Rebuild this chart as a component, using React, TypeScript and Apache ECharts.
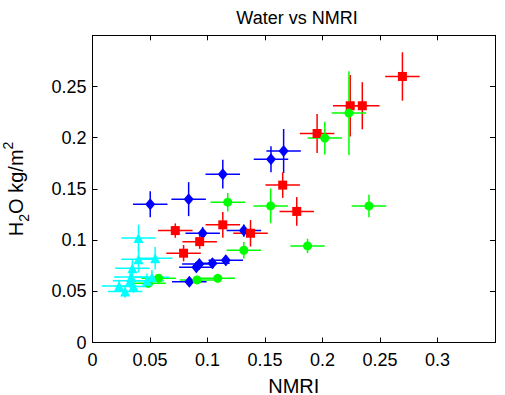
import React, { useEffect, useRef } from "react";
import * as echarts from "echarts";

// [NMRI, H2O, NMRI error, H2O error]
const bluePoints: number[][] = [
  [0.0502, 0.135, 0.015, 0.0127],
  [0.0836, 0.14, 0.015, 0.0166],
  [0.1133, 0.1644, 0.015, 0.014],
  [0.0958, 0.1067, 0.015, 0.006],
  [0.1316, 0.1093, 0.015, 0.006],
  [0.0929, 0.0767, 0.015, 0.005],
  [0.0903, 0.0735, 0.015, 0.005],
  [0.1043, 0.0774, 0.015, 0.005],
  [0.1159, 0.0803, 0.015, 0.005],
  [0.0842, 0.0594, 0.015, 0.004],
  [0.1552, 0.179, 0.015, 0.0127],
  [0.1662, 0.187, 0.015, 0.0215],
];

const redPoints: number[][] = [
  [0.072, 0.1093, 0.015, 0.007],
  [0.1133, 0.1149, 0.015, 0.0125],
  [0.0932, 0.0985, 0.015, 0.007],
  [0.1374, 0.1067, 0.015, 0.013],
  [0.0792, 0.0872, 0.015, 0.008],
  [0.1654, 0.1537, 0.015, 0.0125],
  [0.1776, 0.128, 0.015, 0.014],
  [0.1953, 0.2041, 0.015, 0.019],
  [0.2241, 0.2312, 0.015, 0.03],
  [0.2346, 0.2312, 0.015, 0.023],
  [0.2695, 0.2598, 0.015, 0.0236],
];

const greenPoints: number[][] = [
  [0.1176, 0.137, 0.015, 0.009],
  [0.1316, 0.0901, 0.015, 0.008],
  [0.0575, 0.0628, 0.015, 0.004],
  [0.0487, 0.0579, 0.015, 0.004],
  [0.0909, 0.0611, 0.015, 0.004],
  [0.1089, 0.0627, 0.015, 0.004],
  [0.1549, 0.1334, 0.015, 0.017],
  [0.187, 0.0943, 0.015, 0.007],
  [0.202, 0.1996, 0.015, 0.016],
  [0.223, 0.224, 0.015, 0.041],
  [0.2404, 0.1334, 0.015, 0.011],
];

const cyanPoints: number[][] = [
  [0.04, 0.102, 0.015, 0.013],
  [0.04, 0.0813, 0.015, 0.013],
  [0.0545, 0.0823, 0.015, 0.011],
  [0.0347, 0.0725, 0.015, 0.008],
  [0.0337, 0.064, 0.015, 0.007],
  [0.0327, 0.0604, 0.015, 0.007],
  [0.0473, 0.0604, 0.015, 0.007],
  [0.0517, 0.0637, 0.015, 0.007],
  [0.0231, 0.0552, 0.015, 0.006],
  [0.0356, 0.0546, 0.015, 0.006],
  [0.0284, 0.0497, 0.015, 0.006],
];

const titleText = "Water vs NMRI";
const xName = "NMRI";

const FONT = "'Liberation Sans', Arial, Helvetica, sans-serif";

function errorSeries(data: number[][], color: string) {
  return {
    type: "custom",
    data,
    encode: { x: 0, y: 1 },
    clip: false,
    silent: true,
    renderItem: (_params: any, api: any) => {
      const x = api.value(0);
      const y = api.value(1);
      const ex = api.value(2);
      const ey = api.value(3);
      const l = api.coord([x - ex, y]);
      const r = api.coord([x + ex, y]);
      const t = api.coord([x, y + ey]);
      const b = api.coord([x, y - ey]);
      const style = { stroke: color, lineWidth: 1.5 };
      return {
        type: "group",
        children: [
          { type: "line", shape: { x1: l[0], y1: l[1], x2: r[0], y2: r[1] }, style },
          { type: "line", shape: { x1: t[0], y1: t[1], x2: b[0], y2: b[1] }, style },
        ],
      };
    },
  };
}

function markerSeries(data: number[][], color: string, symbol: string, size: any) {
  return {
    type: "scatter",
    data: data.map((d) => [d[0], d[1]]),
    symbol,
    symbolSize: size,
    itemStyle: { color, opacity: 1 },
    emphasis: { disabled: true },
  };
}

export default function App() {
  const ref = useRef<HTMLDivElement>(null);
  useEffect(() => {
    if (!ref.current) return;
    const chart = echarts.init(ref.current, null, { renderer: "svg" });
    const tickLabel = {
      color: "#000",
      fontFamily: FONT,
      fontSize: 18,
    };
    const axisLine = { show: true, onZero: false, lineStyle: { color: "#000", width: 1 } };
    const axisTick = { show: true, inside: true, length: 5, lineStyle: { color: "#000", width: 1 } };
    chart.setOption({
      animation: false,
      backgroundColor: "#fff",
      grid: {
        left: 92.5,
        top: 35.3,
        width: 402.5,
        height: 307.2,
        containLabel: false,
        outerBoundsMode: "none",
      },
      graphic: [
        {
          type: "text",
          x: 297,
          y: 18,
          style: {
            text: titleText,
            fontFamily: FONT,
            fontSize: 18,
            fill: "#000",
            align: "center",
            verticalAlign: "middle",
          },
        },
      ],
      xAxis: [
        {
          type: "value",
          position: "bottom",
          min: 0,
          max: 0.35,
          interval: 0.05,
          axisLine,
          axisTick,
          splitLine: { show: false },
          axisLabel: {
            ...tickLabel,
            margin: 8,
            formatter: (v: number) => (v > 0.3001 ? "" : String(Math.round(v * 100) / 100)),
          },
          name: xName,
          nameLocation: "middle",
          nameGap: 33,
          nameTextStyle: { color: "#000", fontFamily: FONT, fontSize: 20 },
        },
        {
          type: "value",
          position: "top",
          min: 0,
          max: 0.35,
          interval: 0.05,
          axisLine,
          axisTick,
          splitLine: { show: false },
          axisLabel: { show: false },
        },
      ],
      yAxis: [
        {
          type: "value",
          position: "left",
          min: 0,
          max: 0.3,
          interval: 0.05,
          axisLine,
          axisTick,
          splitLine: { show: false },
          axisLabel: {
            ...tickLabel,
            margin: 6,
            formatter: (v: number) => (v > 0.2501 ? "" : String(Math.round(v * 100) / 100)),
          },
          name: "{a|H}{s|2}{a|O kg/m}{p|2}",
          nameLocation: "middle",
          nameGap: 62,
          nameRotate: 90,
          nameTextStyle: {
            color: "#000",
            fontFamily: FONT,
            fontSize: 20,
            rich: {
              a: { fontFamily: FONT, fontSize: 20, lineHeight: 30, color: "#000" },
              s: { fontFamily: FONT, fontSize: 14, lineHeight: 14, verticalAlign: "bottom", color: "#000" },
              p: { fontFamily: FONT, fontSize: 14, lineHeight: 14, verticalAlign: "top", color: "#000" },
            },
          },
        },
        {
          type: "value",
          position: "right",
          min: 0,
          max: 0.3,
          interval: 0.05,
          axisLine,
          axisTick,
          splitLine: { show: false },
          axisLabel: { show: false },
        },
      ],
      series: [
        errorSeries(bluePoints, "#0000ff"),
        markerSeries(bluePoints, "#0000ff", "diamond", [10, 12]),
        errorSeries(redPoints, "#ff0000"),
        markerSeries(redPoints, "#ff0000", "rect", 9),
        errorSeries(greenPoints, "#00ff00"),
        markerSeries(greenPoints, "#00ff00", "circle", 9),
        errorSeries(cyanPoints, "#00ffff"),
        markerSeries(cyanPoints, "#00ffff", "triangle", 10),
      ],
    });
    return () => chart.dispose();
  }, []);
  return (
    <div
      ref={ref}
      style={{ position: "fixed", left: 0, top: 0, width: 505, height: 395, background: "#fff" }}
    />
  );
}
